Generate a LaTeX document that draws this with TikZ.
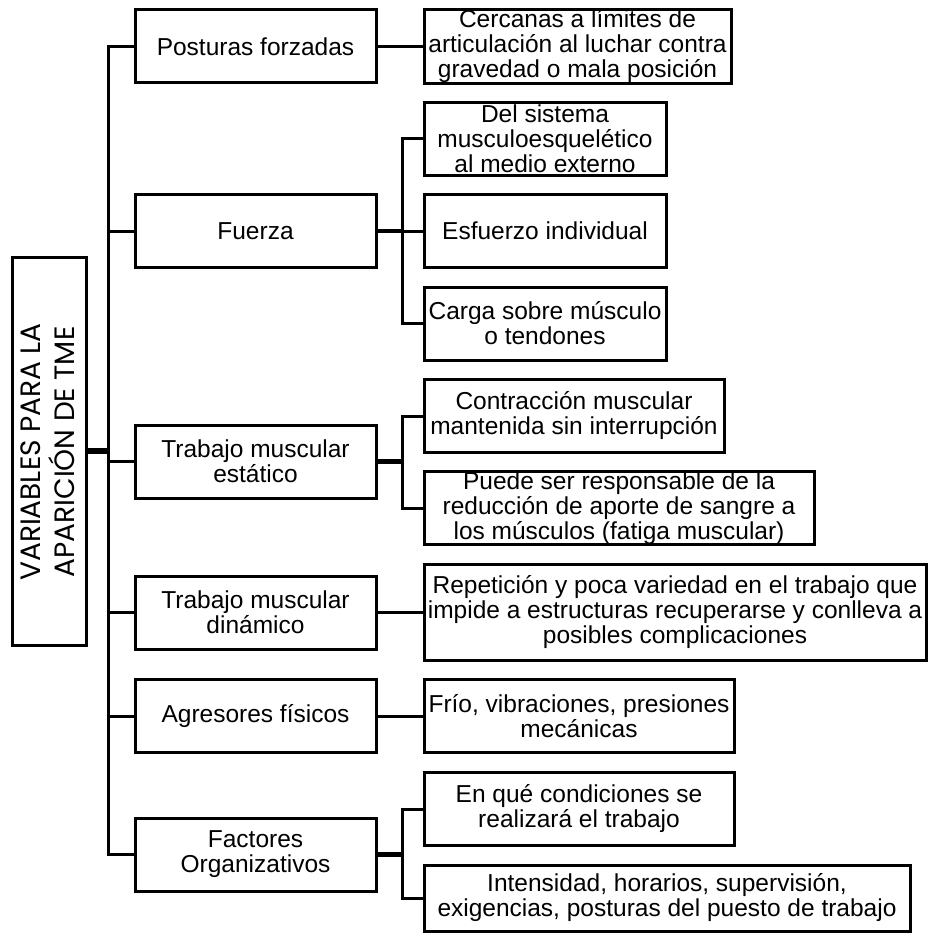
\documentclass[tikz,border=0pt]{standalone}
\usepackage{fontspec}
\setmainfont{Liberation Sans}
\newfontfamily\titlefont{Poppins}
\usetikzlibrary{calc}
\tikzset{
	box/.style={draw, line width=3pt, inner sep=0pt, align=center,
		font=\fontsize{24.5}{25}\selectfont},
	link/.style={line width=3pt},
	stub/.style={line width=4.5pt},
	root link/.style={line width=6pt}
}

\begin{document}
\begin{tikzpicture}[x=1pt, y=-1pt]
		\useasboundingbox (0,0) rectangle (928,936);
		
		% raiz
		\node[box, minimum width=74pt, minimum height=388pt] (root) at (49,451) {};
		\node[rotate=90, align=center, font=\titlefont\fontsize{28}{34}\selectfont] (rtext) at (47.5,452) {VARIABLES PARA LA\\APARICIÓN DE TME};
		
		% primer nivel
		\node[box, minimum width=241pt, minimum height=73pt] (pf) at (255.5,46.5) {Posturas forzadas};
		\node[box, minimum width=241pt, minimum height=73pt] (fu) at (255.5,231) {Fuerza};
		\node[box, minimum width=241pt, minimum height=73pt] (te) at (255.5,461.5) {Trabajo muscular\\est\'atico};
		\node[box, minimum width=241pt, minimum height=73pt] (td) at (255.5,612.5) {Trabajo muscular\\din\'amico};
		\node[box, minimum width=241pt, minimum height=73pt] (ag) at (255.5,716) {Agresores f\'isicos};
		\node[box, minimum width=241pt, minimum height=73pt] (fo) at (255.5,854.5) {Factores\\Organizativos};
		
		% segundo nivel
		\node[box, minimum width=307pt, minimum height=73pt] (ce) at (577.5,46.5) {Cercanas a l\'imites de\\articulaci\'on al luchar contra\\gravedad o mala posici\'on};
		\node[box, minimum width=242pt, minimum height=73pt] (ds) at (545,139) {Del sistema\\musculoesquel\'etico\\al medio externo};
		\node[box, minimum width=242pt, minimum height=73pt] (ei) at (545,231) {Esfuerzo individual};
		\node[box, minimum width=242pt, minimum height=73pt] (cs) at (545,323.5) {Carga sobre m\'usculo\\o tendones};
		\node[box, minimum width=300pt, minimum height=73pt] (co) at (574,416) {Contracci\'on muscular\\mantenida sin interrupci\'on};
		\node[box, minimum width=390pt, minimum height=73pt] (ps) at (619,508) {Puede ser responsable de la\\reducci\'on de aporte de sangre a\\los m\'usculos (fatiga muscular)};
		\node[box, minimum width=502pt, minimum height=96pt] (re) at (675,612) {Repetici\'on y poca variedad en el trabajo que\\impide a estructuras recuperarse y conlleva a\\posibles complicaciones};
		\node[box, minimum width=310pt, minimum height=73pt] (fr) at (579,716) {Fr\'io, vibraciones, presiones\\mec\'anicas};
		\node[box, minimum width=310pt, minimum height=73pt] (eq) at (579,809) {En qu\'e condiciones se\\realizar\'a el trabajo};
		\node[box, minimum width=486pt, minimum height=66pt] (in) at (667,898) {Intensidad, horarios, supervisi\'on,\\exigencias, posturas del puesto de trabajo};
		
		% tronco
		\draw[link] (pf.west) -- ++(-25,0) coordinate (t1) -- (t1 |- fo.west) -- (fo.west);
		\draw[root link] (root.east) -- (root.east -| t1);
		\draw[link] (fu.west) -- (fu.west -| t1);
		\draw[link] (te.west) -- (te.west -| t1);
		\draw[link] (td.west) -- (td.west -| t1);
		\draw[link] (ag.west) -- (ag.west -| t1);
		
		% ramas
		\draw[link] (pf.east) -- (ce.west);
		\draw[link] (td.east) -- (td.east -| re.west);
		\draw[link] (ag.east) -- (fr.west);
		
		\draw[stub] (fu.east) -- ++(25,0) coordinate (b1);
		\draw[link] (ds.west) -- (ds.west -| b1) -- (cs.west -| b1) -- (cs.west);
		\draw[link] (b1) -- (ei.west);
		
		\draw[stub] (te.east) -- ++(25,0) coordinate (b2);
		\draw[link] (co.west) -- (co.west -| b2) -- (ps.west -| b2) -- (ps.west);
		
		\draw[stub] (fo.east) -- ++(25,0) coordinate (b3);
		\draw[link] (eq.west) -- (eq.west -| b3) -- (in.west -| b3) -- (in.west);
		
	\end{tikzpicture}
\end{document}
